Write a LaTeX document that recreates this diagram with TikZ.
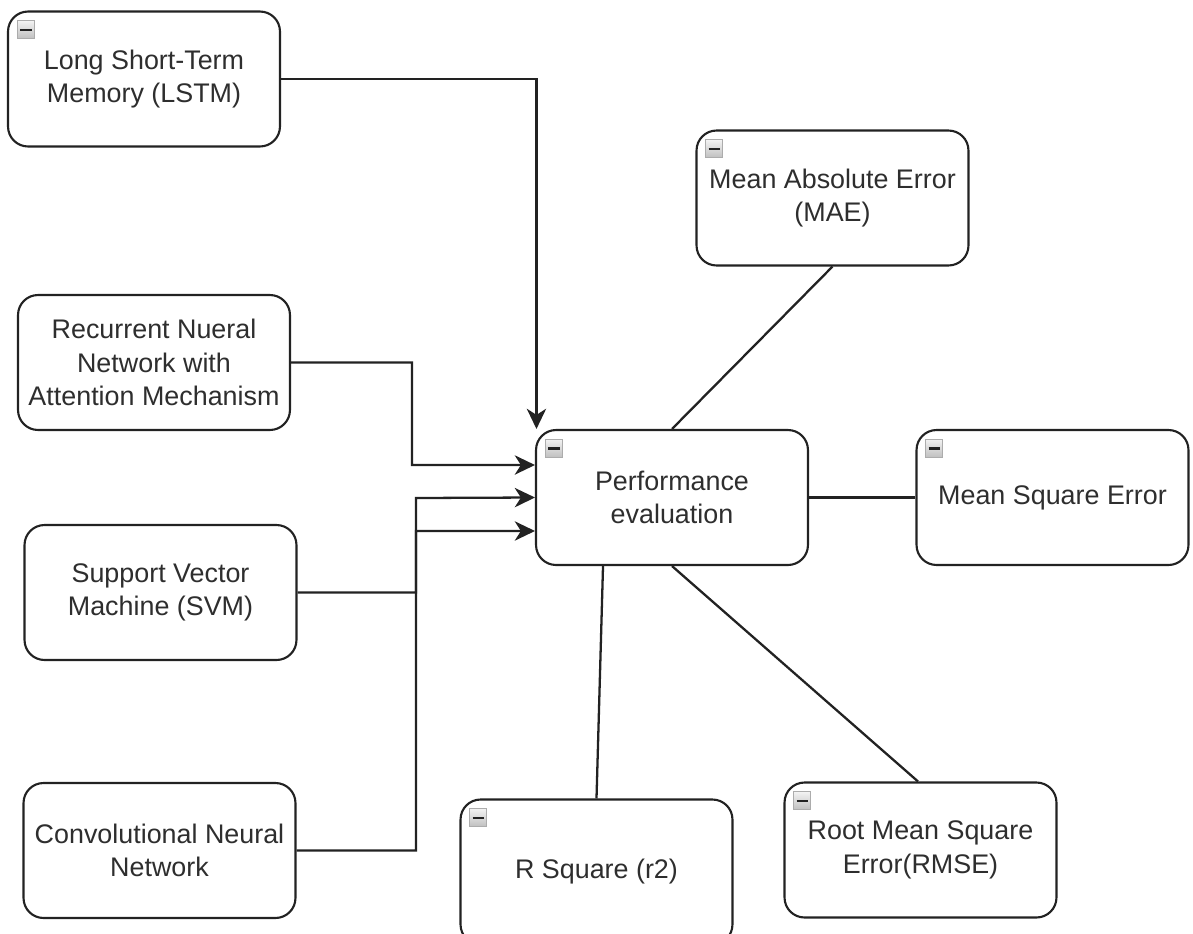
\documentclass[tikz,border=0pt]{standalone}
\usepackage{fontspec}
\setmainfont{Liberation Sans}
\usetikzlibrary{arrows.meta}
\definecolor{ink}{HTML}{222222}
\definecolor{txt}{HTML}{2E2E2E}
\begin{document}
\begin{tikzpicture}[x=0.02cm, y=-0.02cm,
  box/.style={draw=ink, line width=1.2pt, rounded corners=0.4cm,
    minimum width=5.44cm, minimum height=2.7cm, align=center, inner sep=0pt,
    text=txt, font=\fontsize{15.3}{19}\selectfont},
  icon/.style={draw=gray!65, top color=gray!10, bottom color=gray!50,
    minimum width=0.34cm, minimum height=0.36cm, inner sep=0pt, anchor=north west,
    path picture={\draw[ink, line width=1.4pt]
      ([xshift=1.6pt]path picture bounding box.west) --
      ([xshift=-1.6pt]path picture bounding box.east);}},
  link/.style={draw=ink, line width=1.3pt},
  arr/.style={link, -{Stealth[length=11.5pt, width=11pt, inset=3.5pt]}}]
  \useasboundingbox (0,0) rectangle (1193,933);
  \clip (0,0) rectangle (1193,933);
  \fill[white] (0,0) rectangle (1193,933);

  % model boxes on the left
  \node[box] (lstm) at (144,79)    {Long Short-Term\\Memory (LSTM)};
  \node[box] (rnn)  at (154,362.5) {Recurrent Nueral\\Network with\\Attention Mechanism};
  \node[box] (svm)  at (160.5,592.5) {Support Vector\\Machine (SVM)};
  \node[box] (cnn)  at (159.5,850.5) {Convolutional Neural\\Network};

  % central node and metric boxes
  \node[box] (pe)   at (672,497.5)  {Performance\\evaluation};
  \node[box] (mae)  at (832.5,198)  {Mean Absolute Error\\(MAE)};
  \node[box] (mse)  at (1052.5,497.5) {Mean Square Error};
  \node[box, minimum height=2.9cm] (rsq) at (596.5,872) {R Square (r2)};
  \node[box] (rmse) at (920.5,850)  {Root Mean Square\\Error(RMSE)};

  % collapse markers
  \node[icon] (i1) at ([xshift=0.2cm,yshift=-0.2cm]lstm.north west) {};
  \node[icon] (i2) at ([xshift=0.2cm,yshift=-0.2cm]pe.north west) {};
  \node[icon] (i3) at ([xshift=0.2cm,yshift=-0.2cm]mae.north west) {};
  \node[icon] (i4) at ([xshift=0.2cm,yshift=-0.2cm]mse.north west) {};
  \node[icon] (i5) at ([xshift=0.2cm,yshift=-0.2cm]rsq.north west) {};
  \node[icon] (i6) at ([xshift=0.2cm,yshift=-0.2cm]rmse.north west) {};

  % inputs into the evaluation
  \coordinate (peTL) at ([xshift=0.03cm]pe.north west);
  \draw[arr] (lstm.east) -| (peTL);
  \draw[arr] (rnn.east) -| (412,465) -- ([yshift=0.65cm]pe.west);
  \draw[arr] (cnn.east) -| (416,498) -- (pe.west);
  \draw[arr] (svm.east) -| (416,531) -- ([yshift=-0.67cm]pe.west);

  % evaluation metrics
  \draw[link] (pe.north) -- (mae.south);
  \draw[link] (pe.east) -- (mse.west);
  \draw[link] ([xshift=-1.38cm]pe.south) -- (rsq.north);
  \draw[link] (pe.south) -- ([xshift=-0.05cm]rmse.north);
\end{tikzpicture}
\end{document}
